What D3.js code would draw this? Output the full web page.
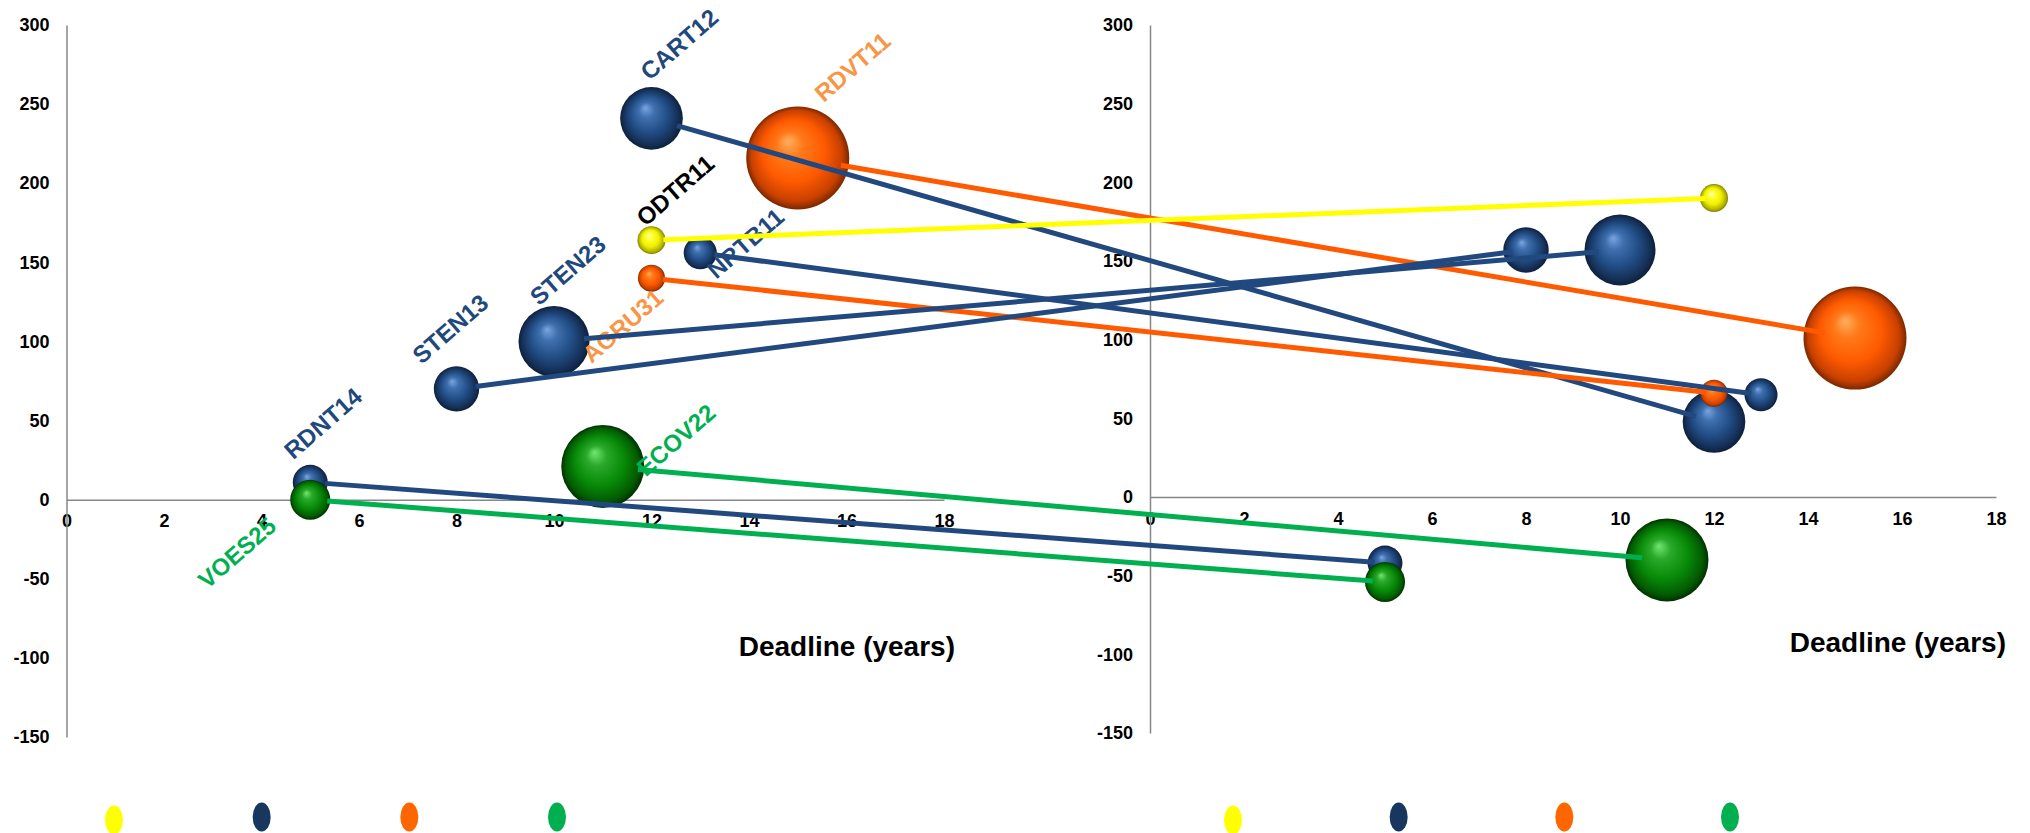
<!DOCTYPE html>
<html>
<head>
<meta charset="utf-8">
<script src="https://cdn.jsdelivr.net/npm/d3@7"></script>
<style>
  body { margin: 0; background: #fff; }
  svg { display: block; font-family: "Liberation Sans", Arial, sans-serif; }
</style>
</head>
<body>
<svg id="chart" width="2030" height="833"></svg>
<script>
// funds: position before (left panel) and after (right panel)
var names = ["CART12", "RDVT11", "ODTR11", "NRTB11", "AGRU31", "STEN23", "STEN13", "RDNT14", "VOES25", "ECOV22"];
var groupOf = ["blue", "orange", "yellow", "blue", "orange", "blue", "blue", "blue", "green", "green"];
var deadlineBefore = [12, 15, 12, 13, 12, 10, 8, 5, 5, 11];
var valueBefore = [241, 216, 164, 156, 140, 100, 70, 11, 0, 21];
var deadlineAfter = [12, 15, 12, 13, 12, 10, 8, 5, 5, 11];
var valueAfter = [48, 101, 190, 65, 66, 157, 157, -42, -54, -40];
var bubbleSize = [37, 100, 7.4, 10.3, 6.9, 47.5, 19.4, 11.5, 15.1, 64.9];

var xTicks = [0, 2, 4, 6, 8, 10, 12, 14, 16, 18];
var yTicks = [-150, -100, -50, 0, 50, 100, 150, 200, 250, 300];
var legendGroups = ["yellow", "blue", "orange", "green"];
var axisTitle = "Deadline (years)";

// styles
var colors = {
  blue:   { line: "#22497f", label: "#1f497d", legend: "#17375e", stops: ["#7aa6e0", "#3f6fae", "#214d85", "#152f55", "#0d1f3a"] },
  orange: { line: "#ff5a00", label: "#f79646", legend: "#ff6600", stops: ["#ffb060", "#ff7a1a", "#ff5a00", "#c84000", "#7a2800"] },
  yellow: { line: "#ffff00", label: "#000000", legend: "#ffff00", stops: ["#ffffd0", "#ffff30", "#f0f000", "#b0b000", "#808000"] },
  green:  { line: "#00b050", label: "#00b050", legend: "#00b050", stops: ["#70e870", "#2aa82a", "#078a07", "#035a03", "#013001"] }
};
var drawOrder = { blue: 0, orange: 1, yellow: 2, green: 3 };

// label offsets from bubble centre (left panel only)
var labelOffsets = {
  CART12: [-2, -37], RDVT11: [26, -55], ODTR11: [-6, -13], NRTB11: [16, 27],
  AGRU31: [-60, 86], STEN23: [-15, -35], STEN13: [-35, -24], RDNT14: [-17, -22],
  VOES25: [-103, 90], ECOV22: [43, 11]
};

var panels = [
  { x: [66.5, 944], y: [737, 25], legend: [114, 557], title: [955, 656], labels: true },
  { x: [1150, 1996], y: [733, 25], legend: [1233, 1730], title: [2006, 652], labels: false }
];

var svg = d3.select("#chart");
var rScale = d3.scaleSqrt().domain([0, 100]).range([0, 51.5]);

var defs = svg.append("defs");
Object.keys(colors).forEach(function(k) {
  var g = defs.append("radialGradient").attr("id", "ball-" + k)
    .attr("cx", "50%").attr("cy", "50%").attr("r", "50%")
    .attr("fx", "40%").attr("fy", "33%");
  var offs = ["0%", "25%", "60%", "88%", "100%"];
  colors[k].stops.forEach(function(c, i) {
    g.append("stop").attr("offset", offs[i]).attr("stop-color", c);
  });
});

var rows = names.map(function(n, i) {
  return { name: n, group: groupOf[i], x0: deadlineBefore[i], y0: valueBefore[i],
           x1: deadlineAfter[i], y1: valueAfter[i], size: bubbleSize[i] };
});
var sorted = rows.slice().sort(function(a, b) { return drawOrder[a.group] - drawOrder[b.group]; });

panels.forEach(function(p, pi) {
  p.xs = d3.scaleLinear().domain([0, 18]).range(p.x);
  p.ys = d3.scaleLinear().domain([-150, 300]).range(p.y);
  var g = svg.append("g");

  var ax = g.append("g").attr("transform", "translate(0," + p.ys(0) + ")")
    .call(d3.axisBottom(p.xs).tickValues(xTicks).tickSize(0).tickPadding(15).tickSizeOuter(0)
      .tickFormat(function(d) { return String(d); }));
  var ay = g.append("g").attr("transform", "translate(" + p.xs(0) + ",0)")
    .call(d3.axisLeft(p.ys).tickValues(yTicks).tickSize(0).tickPadding(17).tickSizeOuter(0)
      .tickFormat(function(d) { return String(d); }));
  [ax, ay].forEach(function(a) {
    a.select(".domain").attr("stroke", "#878787").attr("stroke-width", 1.5);
    a.selectAll("text").attr("font-size", 18).attr("font-weight", "bold")
      .attr("fill", "#000").attr("font-family", "Liberation Sans, Arial, sans-serif");
  });

  g.append("text").attr("x", p.title[0]).attr("y", p.title[1])
    .attr("text-anchor", "end").attr("font-size", 28).attr("font-weight", "bold")
    .text(axisTitle);

  // legend markers
  var lx = d3.scalePoint().domain(legendGroups).range(p.legend);
  g.selectAll(".leg").data(legendGroups).enter().append("ellipse")
    .attr("cx", function(d) { return lx(d); })
    .attr("cy", function(d) { return d === "yellow" ? 820 : 817; })
    .attr("rx", 9).attr("ry", 14.5)
    .attr("fill", function(d) { return colors[d].legend; });

  // bubbles
  g.selectAll(".ball").data(sorted).enter().append("circle")
    .attr("cx", function(d) { return p.xs(pi ? d.x1 : d.x0); })
    .attr("cy", function(d) { return p.ys(pi ? d.y1 : d.y0); })
    .attr("r", function(d) { return rScale(d.size); })
    .attr("fill", function(d) { return "url(#ball-" + d.group + ")"; });

  if (p.labels) {
    g.selectAll(".lab").data(rows).enter().append("text")
      .attr("transform", function(d) {
        var o = labelOffsets[d.name];
        return "translate(" + (p.xs(d.x0) + o[0]) + "," + (p.ys(d.y0) + o[1]) + ") rotate(-41)";
      })
      .attr("font-size", 24).attr("font-weight", "bold")
      .attr("fill", function(d) { return colors[d.group].label; })
      .text(function(d) { return d.name; });
  }
});

// connecting lines from left panel bubble to right panel bubble
var L = panels[0], R = panels[1];
svg.append("g").selectAll("line").data(rows).enter().append("line")
  .each(function(d) {
    var ax = L.xs(d.x0), ay = L.ys(d.y0), bx = R.xs(d.x1), by = R.ys(d.y1);
    var len = Math.hypot(bx - ax, by - ay), ux = (bx - ax) / len, uy = (by - ay) / len;
    var r = rScale(d.size);
    d3.select(this)
      .attr("x1", ax + ux * r * 0.85).attr("y1", ay + uy * r * 0.85)
      .attr("x2", bx - ux * r * 0.6).attr("y2", by - uy * r * 0.6);
  })
  .attr("stroke", function(d) { return colors[d.group].line; })
  .attr("stroke-width", 5);
</script>
</body>
</html>
